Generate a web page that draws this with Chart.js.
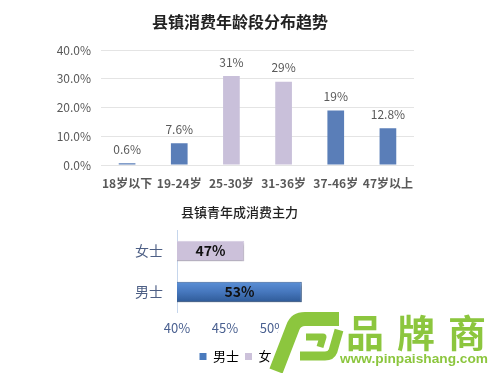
<!DOCTYPE html>
<html>
<head>
<meta charset="utf-8">
<script src="https://cdn.jsdelivr.net/npm/chart.js@4"></script>
<style>
html, body { margin: 0; padding: 0; background: #fff; }
#wrap { position: relative; width: 500px; height: 373px; overflow: hidden; }
#ageChart { position: absolute; left: 0; top: 0; }
#genderChart { position: absolute; left: 0; top: 195px; }
#logo { position: absolute; left: 0; top: 0; }
</style>
</head>
<body>
<div id="wrap">
    <canvas id="ageChart" width="500" height="200"></canvas>
    <canvas id="genderChart" width="500" height="178"></canvas>
    <svg id="logo" width="500" height="373" viewBox="0 0 500 373">
        <polygon points="284,310 500,310 500,373 266,373" fill="#fff"/>
        <g fill="none" stroke="#8cc63e" stroke-linejoin="round">
            <path d="M276 371 L293 327 Q296 319 305 319 L339 319" stroke-width="14"/>
            <path d="M339 330 L333 351 Q331 356 325 356 L300 356" stroke-width="9"/>
            <path d="M306 337 L323 337 L320 347" stroke-width="7"/>
        </g>
        <text x="346" y="347" font-size="38" font-weight="bold" letter-spacing="13" fill="#8cc63e"
              font-family="'Noto Sans CJK SC', sans-serif">品牌商</text>
        <text x="340" y="363" font-size="13.5" font-weight="bold" fill="#8cc63e" textLength="148"
              lengthAdjust="spacingAndGlyphs" font-family="'Liberation Sans', Arial, sans-serif">www.pinpaishang.com</text>
    </svg>
</div>
<script>
// Age group chart data
const ageLabels = ['18岁以下', '19-24岁', '25-30岁', '31-36岁', '37-46岁', '47岁以上'];
const ageValues = [0.6, 7.6, 31, 29, 19, 12.8];
const ageColors = ['#5a7eb8', '#5a7eb8', '#c9c0da', '#c9c0da', '#5a7eb8', '#5a7eb8'];

// Gender chart data
const genderLabels = ['男士', '女士'];
const genderValues = [53, 47];
const genderColors = ['#4a7abd', '#ccc1da'];

const FONT = "'Noto Sans CJK SC', 'Noto Sans', sans-serif";
Chart.defaults.font.family = FONT;

// Move the title box so it centres between two x positions
function titleSpan(left, right) {
    return {
        id: 'titleSpan',
        afterLayout(chart) {
            chart.titleBlock.left = left;
            chart.titleBlock.right = right;
        }
    };
}

// Value labels above the age bars
const ageValueLabels = {
    id: 'ageValueLabels',
    afterDatasetsDraw(chart) {
        const ctx = chart.ctx;
        ctx.save();
        ctx.font = '12px ' + FONT;
        ctx.fillStyle = '#595959';
        ctx.textAlign = 'center';
        ctx.textBaseline = 'middle';
        chart.getDatasetMeta(0).data.forEach((bar, i) => {
            ctx.fillText(ageValues[i] + '%', bar.x, bar.y - 14);
        });
        ctx.restore();
    }
};

// Soft shadow under the gender bars
const barShadow = {
    id: 'barShadow',
    beforeDatasetsDraw(chart) {
        const ctx = chart.ctx;
        ctx.save();
        ctx.shadowColor = 'rgba(0, 0, 0, 0.3)';
        ctx.shadowBlur = 3;
        ctx.shadowOffsetX = 1;
        ctx.shadowOffsetY = 2;
    },
    afterDatasetsDraw(chart) {
        chart.ctx.restore();
    }
};

// Value labels inside the gender bars
const genderValueLabels = {
    id: 'genderValueLabels',
    afterDatasetsDraw(chart) {
        const ctx = chart.ctx;
        const left = chart.chartArea.left;
        ctx.save();
        ctx.font = 'bold 14px ' + FONT;
        ctx.fillStyle = '#111';
        ctx.textAlign = 'center';
        ctx.textBaseline = 'middle';
        chart.getDatasetMeta(0).data.forEach((bar, i) => {
            ctx.fillText(genderValues[i] + '%', (bar.x + left) / 2, bar.y);
        });
        ctx.restore();
    }
};

// Gradient fill for the blue bar
function genderFill(context) {
    const i = context.dataIndex;
    if (i === 1) return genderColors[1];
    const chart = context.chart;
    const yScale = chart.scales.y;
    if (!yScale || !chart.chartArea) return genderColors[0];
    const c = yScale.getPixelForValue(i);
    const g = chart.ctx.createLinearGradient(0, c - 10, 0, c + 10);
    g.addColorStop(0, '#5a8fd6');
    g.addColorStop(0.5, '#4677bd');
    g.addColorStop(1, '#2f5b98');
    return g;
}

new Chart(document.getElementById('ageChart'), {
    type: 'bar',
    data: {
        labels: ageLabels,
        datasets: [{
            data: ageValues,
            backgroundColor: ageColors,
            barPercentage: 0.32,
            categoryPercentage: 1
        }]
    },
    options: {
        responsive: false,
        animation: false,
        layout: { padding: { left: 36, right: 86, top: 0, bottom: 0 } },
        plugins: {
            legend: { display: false },
            tooltip: { enabled: false },
            title: {
                display: true,
                text: '县镇消费年龄段分布趋势',
                color: '#222',
                font: { size: 16, weight: 'bold' },
                padding: { top: 12.5, bottom: 18.5 }
            }
        },
        scales: {
            x: {
                grid: { display: false, drawTicks: false },
                border: { display: false },
                ticks: { color: '#595959', font: { size: 12, weight: 'bold' }, padding: 11, maxRotation: 0, autoSkip: false },
                afterFit: s => { s.height = 35; }
            },
            y: {
                min: 0,
                max: 40,
                ticks: {
                    stepSize: 10,
                    color: '#595959',
                    font: { size: 12 },
                    padding: 10,
                    callback: v => v.toFixed(1) + '%'
                },
                grid: { color: '#e4e4e4', drawTicks: false },
                border: { display: false },
                afterFit: s => { s.width = 65; }
            }
        }
    },
    plugins: [titleSpan(66, 414), ageValueLabels]
});

new Chart(document.getElementById('genderChart'), {
    type: 'bar',
    data: {
        labels: genderLabels,
        datasets: [{
            data: genderValues,
            backgroundColor: genderFill,
            borderColor: ['#3a6299', '#d6cde3'],
            borderWidth: 1,
            borderSkipped: false,
            barPercentage: 0.5,
            categoryPercentage: 1
        }]
    },
    options: {
        indexAxis: 'y',
        responsive: false,
        animation: false,
        layout: { padding: { left: 115, right: 131, top: 0, bottom: 0 } },
        plugins: {
            tooltip: { enabled: false },
            title: {
                display: true,
                text: '县镇青年成消费主力',
                color: '#222',
                font: { size: 13, weight: 500 },
                padding: { top: 9.5, bottom: 10.5 }
            },
            legend: {
                position: 'bottom',
                labels: {
                    boxWidth: 7,
                    boxHeight: 7,
                    color: '#595959',
                    font: { size: 13 },
                    padding: 6,
                    generateLabels: () => genderLabels.map((label, i) => ({
                        text: label,
                        fillStyle: genderColors[i],
                        strokeStyle: genderColors[i],
                        lineWidth: 0,
                        index: i
                    }))
                }
            }
        },
        scales: {
            x: {
                min: 40,
                max: 60,
                ticks: { stepSize: 5, color: '#4a6090', font: { size: 13 }, padding: 8, callback: v => v + '%' },
                grid: { display: false, drawTicks: false },
                border: { display: false }
            },
            y: {
                reverse: true,
                ticks: { color: '#4d5f85', font: { size: 14 }, padding: 14 },
                grid: { display: false, drawTicks: false },
                border: { color: '#c6d6ec' },
                afterFit: s => { s.width = 62; }
            }
        }
    },
    plugins: [titleSpan(107, 372), barShadow, genderValueLabels]
});
</script>
</body>
</html>
